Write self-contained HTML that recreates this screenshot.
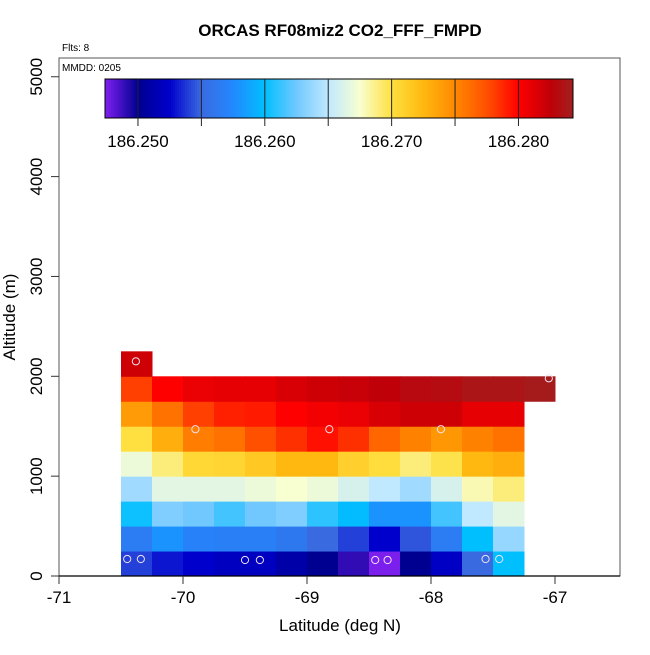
<!DOCTYPE html>
<html><head><meta charset="utf-8"><style>
body{margin:0;background:#fff}
svg text{font-family:"Liberation Sans",Arial,sans-serif}
</style></head><body>
<svg id="chart" width="650" height="650" viewBox="0 0 650 650" xmlns="http://www.w3.org/2000/svg">
<g id="cells"></g>
<g id="pts"></g>
<g id="cbar"></g>
<g id="axes"></g>
<text x="340" y="36" text-anchor="middle" font-size="17" font-weight="bold">ORCAS RF08miz2 CO2_FFF_FMPD</text>
<text x="62" y="51" font-size="10">Flts: 8</text>
<text x="62" y="71" font-size="10">MMDD: 0205</text>
<text x="340" y="631" text-anchor="middle" font-size="17">Latitude (deg N)</text>
<text transform="translate(15,317) rotate(-90)" text-anchor="middle" font-size="17">Altitude (m)</text>
</svg>
<script>
const lat0 = -70.5, latStep = 0.25, altStep = 250;
const row0 = [186.254,186.253,186.2525,186.252,186.252,186.251,186.250,186.249,186.2475,186.250,186.2522,186.255,186.260];
const row1 = [186.2565,186.258,186.257,186.2568,186.2568,186.2562,186.255,186.254,186.2525,186.2545,186.2565,186.260,186.2637];
const row2 = [186.2603,186.263,186.2625,186.2615,186.2625,186.263,186.261,186.2598,186.258,186.258,186.2615,186.265,186.2665];
const row3 = [186.264,186.2665,186.2665,186.2665,186.267,186.2675,186.267,186.266,186.265,186.264,186.266,186.268,186.269];
const row4 = [186.267,186.269,186.2705,186.2707,186.2715,186.2725,186.2725,186.271,186.2702,186.269,186.2698,186.2725,186.273];
const row5 = [186.270,186.273,186.2755,186.276,186.2775,186.2785,186.2795,186.2785,186.2765,186.2753,186.2742,186.2753,186.276];
const row6 = [186.274,186.276,186.278,186.279,186.2792,186.280,186.2805,186.2808,186.2815,186.282,186.282,186.281,186.281];
const row7 = [186.278,186.280,186.2808,186.281,186.281,186.2815,186.282,186.2822,186.2825,186.283,186.2832,186.2837,186.2837,186.284];
const row8 = [186.282];
const rows = [row0,row1,row2,row3,row4,row5,row6,row7,row8];
const ptLat = [-70.45,-70.34,-69.50,-69.38,-68.45,-68.35,-67.56,-67.45,-69.90,-68.82,-67.92,-70.38,-67.05];
const ptAlt = [170,170,160,160,160,160,170,170,1470,1470,1470,2150,1980];
const xTicks = [-71,-70,-69,-68,-67];
const yTicks = [0,1000,2000,3000,4000,5000];
const cbTicks = ["186.250","186.260","186.270","186.280"];
const cbMin = 186.2474, cbMax = 186.2843;

const NS="http://www.w3.org/2000/svg";
function X(lat){return 59+(lat+71)*124;}
function Y(alt){return 576-alt*0.09985;}
const stops=[[186.2474,"#8020f0"],[186.250,"#000090"],[186.2525,"#0000cc"],[186.255,"#3a6ae0"],[186.2575,"#2288ff"],[186.260,"#00bfff"],[186.2625,"#70c8ff"],[186.265,"#c0e8ff"],[186.2675,"#f8ffd0"],[186.270,"#ffe040"],[186.2725,"#ffb810"],[186.275,"#ff8800"],[186.2775,"#ff5000"],[186.280,"#ff0000"],[186.2825,"#c00008"],[186.2843,"#a02020"]];
function hx(c){return [1,3,5].map(i=>parseInt(c.substr(i,2),16));}
function col(v){
  if(v<=stops[0][0])return stops[0][1];
  for(let i=1;i<stops.length;i++){if(v<=stops[i][0]){const t=(v-stops[i-1][0])/(stops[i][0]-stops[i-1][0]);const a=hx(stops[i-1][1]),b=hx(stops[i][1]);return "rgb("+a.map((x,j)=>Math.round(x+(b[j]-x)*t)).join(",")+")";}}
  return stops[stops.length-1][1];
}
function mk(tag,attrs,parent){const e=document.createElementNS(NS,tag);for(const k in attrs)e.setAttribute(k,attrs[k]);parent.appendChild(e);return e;}
const cells=document.getElementById('cells');
rows.forEach((r,ri)=>r.forEach((v,ci)=>{
  const x1=X(lat0+ci*latStep),x2=X(lat0+(ci+1)*latStep),y1=Y((ri+1)*altStep),y2=Y(ri*altStep);
  const e=mk('rect',{x:x1,y:y1,width:x2-x1+0.5,height:y2-y1+0.5,fill:col(v)},cells);
  
  
}));
const pts=document.getElementById('pts');
ptLat.forEach((la,i)=>{
  const e=mk('circle',{cx:X(la),cy:Y(ptAlt[i]),r:3.6,fill:'none',stroke:'#f0e0f0','stroke-width':1},pts);
  
  
});
// colorbar
const cb=document.getElementById('cbar');
const cbx0=105,cbx1=573,cby0=79,cby1=118;
function CX(v){return cbx0+(v-cbMin)/(cbMax-cbMin)*(cbx1-cbx0);}
for(let px=cbx0;px<cbx1;px+=2){mk('rect',{x:px,y:cby0,width:2.3,height:cby1-cby0,fill:col(cbMin+(px+1-cbx0)/(cbx1-cbx0)*(cbMax-cbMin))},cb);}
mk('rect',{x:cbx0,y:cby0,width:cbx1-cbx0,height:cby1-cby0,fill:'none',stroke:'#000','stroke-width':1},cb);
for(let k=0;k<7;k++){const x=CX(186.250+k*0.005);mk('line',{x1:x,y1:cby0,x2:x,y2:cby1+8,stroke:'#222','stroke-width':1},cb);}
cbTicks.forEach(t=>{const e=mk('text',{x:CX(parseFloat(t)),y:147,'text-anchor':'middle','font-size':17},cb);e.textContent=t;
  
  });
// axes
const ax=document.getElementById('axes');
mk('rect',{x:59,y:58,width:561,height:518,fill:'none',stroke:'#555','stroke-width':1},ax);
mk('line',{x1:59,y1:576,x2:620,y2:576,stroke:'#000','stroke-width':1.2},ax);
xTicks.forEach(t=>{const x=X(t);mk('line',{x1:x,y1:576,x2:x,y2:584,stroke:'#333'},ax);
  const e=mk('text',{x:x,y:603,'text-anchor':'middle','font-size':17},ax);e.textContent=t;
  
  });
yTicks.forEach(t=>{const y=Y(t);mk('line',{x1:51,y1:y,x2:59,y2:y,stroke:'#333'},ax);
  const e=mk('text',{transform:'translate(42,'+y+') rotate(-90)','text-anchor':'middle','font-size':17},ax);e.textContent=t;
  
  });
</script>
</body></html>
